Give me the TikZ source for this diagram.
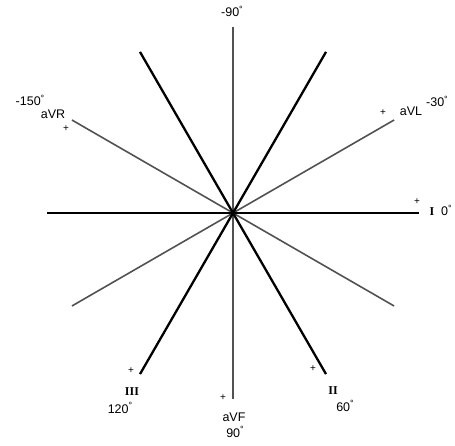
\documentclass[tikz,border=0pt]{standalone}
\usepackage{fontspec}
\setmainfont{Liberation Sans}
\newfontfamily\numfont{Liberation Serif}
\usepackage{tikz}

\newcommand{\dg}{\raisebox{4.5pt}{\fontsize{9}{9}\selectfont °}}

\begin{document}
\begin{tikzpicture}[x=1pt,y=1pt]
\tikzstyle{every node}+=[inner sep=0pt, font=\fontsize{12.5}{14}\selectfont]
\tikzstyle{limb}=[black, line width=2.3pt]
\tikzstyle{aug}=[black!68, line width=1.6pt]
\tikzstyle{pole}=[font=\fontsize{10}{11}\selectfont]
\tikzstyle{lab}=[anchor=base]
\tikzstyle{roman}=[font=\numfont\bfseries\fontsize{12}{14}\selectfont]
\useasboundingbox (0,0) rectangle (455,-446);
% axis ends
\coordinate (O) at (233,-213);
\coordinate (Ip) at (419,-213);
\coordinate (In) at (47,-213);
\coordinate (IIp) at (326,-374.1);
\coordinate (IIn) at (140,-51.9);
\coordinate (IIIp) at (140,-374.1);
\coordinate (IIIn) at (326,-51.9);
\coordinate (aVFp) at (233,-399);
\coordinate (aVFn) at (233,-27);
\coordinate (aVRp) at (71.9,-120);
\coordinate (aVRn) at (394.1,-306);
\coordinate (aVLp) at (394.1,-120);
\coordinate (aVLn) at (71.9,-306);
% augmented leads
\draw [aug] (aVFn) -- (aVFp);
\draw [aug] (aVRp) -- (aVRn);
\draw [aug] (aVLp) -- (aVLn);
% limb leads
\draw [limb] (In) -- (Ip);
\draw [limb] (IIn) -- (IIp);
\draw [limb] (IIIn) -- (IIIp);
\fill [black] (O) circle (2.5);
% positive poles
\node [pole] (pI) at (417,-202) {+};
\node [pole] (pII) at (313,-369) {+};
\node [pole] (pIII) at (131,-371) {+};
\node [pole] (paVF) at (223,-398) {+};
\node [pole] (paVR) at (66,-129) {+};
\node [pole] (paVL) at (383,-113) {+};
% labels
\node [lab] (tm90) at (232,-17) {-90\dg};
\node [lab] (tm150) at (30,-106) {-150\dg};
\node [lab] (taVR) at (53,-119) {aVR};
\node [lab] (taVL) at (411,-116) {aVL};
\node [lab] (tm30) at (437,-107) {-30\dg};
\node [lab, roman] (tI) at (432,-216) {I};
\node [lab, anchor=base west] (tI0) at (441,-216) {0\dg};
\node [lab, roman] (tIII) at (132,-395) {III};
\node [lab] (t120) at (120,-413) {120\dg};
\node [lab] (taVF) at (234,-421) {aVF};
\node [lab] (t90) at (235,-437) {90\dg};
\node [lab, roman] (tII) at (333,-394) {II};
\node [lab] (t60) at (345,-411) {60\dg};
\end{tikzpicture}
\end{document}
